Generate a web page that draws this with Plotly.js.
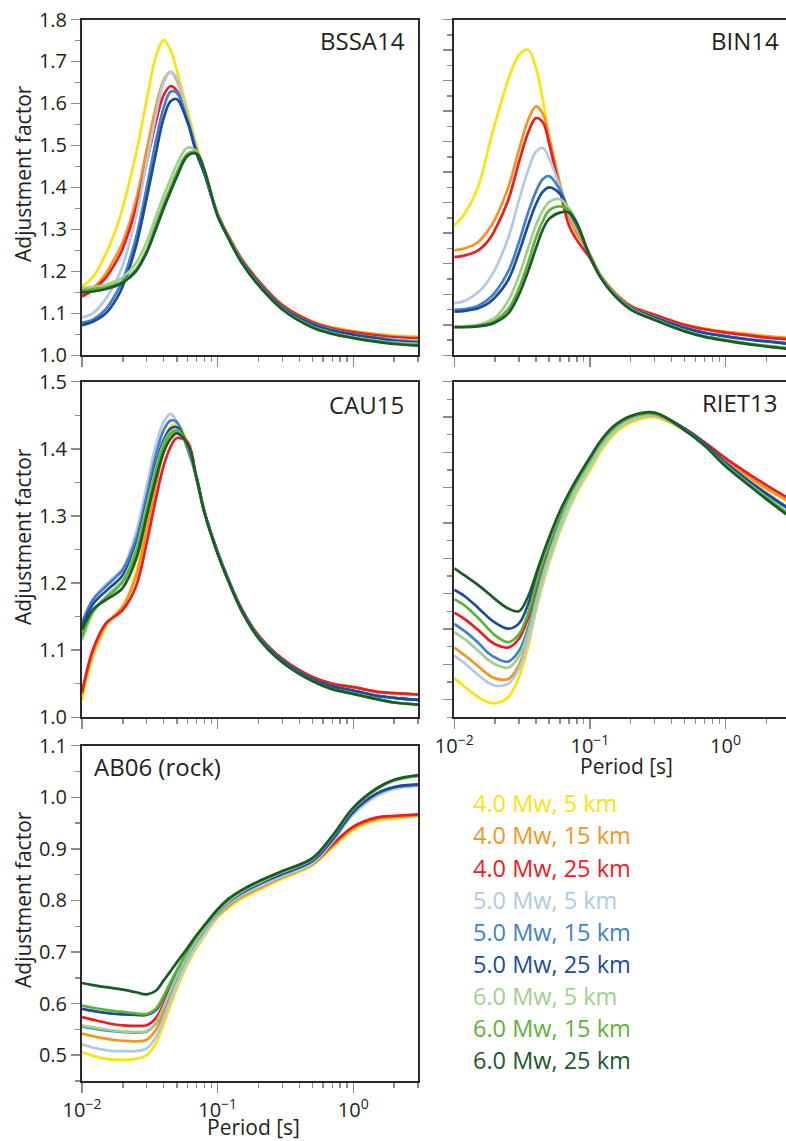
<!DOCTYPE html>
<html>
<head>
<meta charset="utf-8">
<script src="https://cdn.plot.ly/plotly-3.0.1.min.js"></script>
<style>html,body{margin:0;padding:0;background:#fff;overflow:hidden}#chart{width:786px;height:1141px}</style>
</head>
<body>
<div id="chart"></div>
<script>
// ---------------- DATA ----------------
const periods = [0.01, 0.012, 0.015, 0.018, 0.02, 0.025, 0.03, 0.035, 0.04, 0.045, 0.05, 0.06, 0.07, 0.08, 0.1, 0.12, 0.15, 0.2, 0.3, 0.5, 0.7, 1.0, 1.5, 2.0, 3.0];

const seriesNames = ["4.0 Mw, 5 km", "4.0 Mw, 15 km", "4.0 Mw, 25 km", "5.0 Mw, 5 km", "5.0 Mw, 15 km", "5.0 Mw, 25 km", "6.0 Mw, 5 km", "6.0 Mw, 15 km", "6.0 Mw, 25 km"];
const seriesColors = ["#FBE30C", "#F7941D", "#EC1C24", "#B2C8E8", "#4281C6", "#1E4A9D", "#9FD08C", "#5DB334", "#1B5A2B"];

const panelNames = ["BSSA14", "BIN14", "CAU15", "RIET13", "AB06 (rock)"];

const BSSA14 = [
  [1.164, 1.186, 1.242, 1.305, 1.353, 1.48, 1.608, 1.711, 1.751, 1.727, 1.679, 1.584, 1.50, 1.44, 1.337, 1.285, 1.23, 1.178, 1.12, 1.08, 1.066, 1.057, 1.05, 1.047, 1.045],
  [1.145, 1.16, 1.195, 1.24, 1.27, 1.37, 1.49, 1.59, 1.655, 1.675, 1.655, 1.57, 1.49, 1.435, 1.337, 1.285, 1.23, 1.178, 1.12, 1.08, 1.066, 1.057, 1.05, 1.045, 1.043],
  [1.14, 1.155, 1.185, 1.225, 1.255, 1.35, 1.46, 1.555, 1.62, 1.641, 1.63, 1.56, 1.485, 1.433, 1.336, 1.284, 1.229, 1.177, 1.119, 1.079, 1.064, 1.055, 1.047, 1.043, 1.04],
  [1.09, 1.10, 1.135, 1.18, 1.215, 1.33, 1.46, 1.57, 1.65, 1.675, 1.66, 1.57, 1.49, 1.435, 1.335, 1.282, 1.226, 1.173, 1.115, 1.075, 1.06, 1.05, 1.042, 1.038, 1.035],
  [1.078, 1.085, 1.11, 1.15, 1.18, 1.28, 1.40, 1.51, 1.59, 1.628, 1.625, 1.56, 1.485, 1.433, 1.335, 1.282, 1.226, 1.173, 1.115, 1.075, 1.06, 1.05, 1.042, 1.036, 1.032],
  [1.072, 1.08, 1.10, 1.135, 1.165, 1.26, 1.375, 1.48, 1.565, 1.605, 1.61, 1.555, 1.48, 1.432, 1.334, 1.281, 1.225, 1.172, 1.114, 1.074, 1.059, 1.049, 1.04, 1.034, 1.03],
  [1.16, 1.163, 1.168, 1.178, 1.186, 1.22, 1.27, 1.33, 1.38, 1.42, 1.455, 1.495, 1.485, 1.44, 1.333, 1.28, 1.222, 1.168, 1.11, 1.068, 1.053, 1.043, 1.035, 1.03, 1.027],
  [1.155, 1.157, 1.162, 1.17, 1.177, 1.205, 1.25, 1.31, 1.36, 1.40, 1.435, 1.48, 1.482, 1.44, 1.333, 1.28, 1.222, 1.168, 1.11, 1.067, 1.052, 1.042, 1.034, 1.028, 1.025],
  [1.15, 1.152, 1.158, 1.166, 1.173, 1.20, 1.245, 1.30, 1.35, 1.39, 1.425, 1.475, 1.48, 1.44, 1.332, 1.279, 1.221, 1.167, 1.109, 1.066, 1.051, 1.041, 1.032, 1.027, 1.023]
];

const BIN14 = [
  [1.309, 1.339, 1.402, 1.498, 1.553, 1.657, 1.716, 1.728, 1.685, 1.609, 1.52, 1.40, 1.34, 1.30, 1.24, 1.19, 1.152, 1.118, 1.097, 1.073, 1.063, 1.056, 1.05, 1.046, 1.042],
  [1.25, 1.255, 1.27, 1.30, 1.325, 1.40, 1.49, 1.56, 1.593, 1.575, 1.52, 1.41, 1.33, 1.29, 1.24, 1.19, 1.152, 1.118, 1.097, 1.073, 1.063, 1.056, 1.05, 1.045, 1.041],
  [1.234, 1.238, 1.25, 1.275, 1.30, 1.37, 1.46, 1.53, 1.565, 1.555, 1.505, 1.395, 1.31, 1.275, 1.232, 1.188, 1.15, 1.117, 1.096, 1.072, 1.062, 1.054, 1.047, 1.042, 1.038],
  [1.124, 1.13, 1.15, 1.18, 1.205, 1.28, 1.37, 1.44, 1.485, 1.494, 1.47, 1.40, 1.34, 1.305, 1.238, 1.188, 1.149, 1.114, 1.091, 1.066, 1.054, 1.046, 1.038, 1.034, 1.029],
  [1.108, 1.11, 1.118, 1.135, 1.15, 1.20, 1.27, 1.34, 1.39, 1.42, 1.427, 1.395, 1.345, 1.31, 1.238, 1.188, 1.148, 1.114, 1.091, 1.066, 1.054, 1.046, 1.038, 1.034, 1.028],
  [1.104, 1.106, 1.112, 1.125, 1.138, 1.18, 1.245, 1.31, 1.36, 1.39, 1.40, 1.385, 1.345, 1.31, 1.237, 1.187, 1.147, 1.113, 1.09, 1.065, 1.053, 1.045, 1.037, 1.033, 1.027],
  [1.068, 1.069, 1.073, 1.082, 1.09, 1.13, 1.19, 1.255, 1.31, 1.345, 1.365, 1.372, 1.35, 1.315, 1.237, 1.187, 1.146, 1.111, 1.086, 1.059, 1.046, 1.037, 1.028, 1.023, 1.017],
  [1.067, 1.068, 1.07, 1.076, 1.082, 1.11, 1.16, 1.22, 1.28, 1.32, 1.345, 1.355, 1.345, 1.315, 1.236, 1.186, 1.145, 1.11, 1.085, 1.058, 1.045, 1.036, 1.027, 1.022, 1.016],
  [1.067, 1.067, 1.069, 1.073, 1.078, 1.10, 1.145, 1.20, 1.255, 1.30, 1.325, 1.34, 1.34, 1.315, 1.235, 1.185, 1.144, 1.109, 1.084, 1.057, 1.044, 1.035, 1.026, 1.021, 1.015]
];

const CAU15 = [
  [1.025, 1.09, 1.135, 1.155, 1.165, 1.215, 1.29, 1.36, 1.41, 1.433, 1.437, 1.41, 1.355, 1.305, 1.245, 1.205, 1.162, 1.122, 1.087, 1.06, 1.05, 1.045, 1.038, 1.036, 1.034],
  [1.035, 1.095, 1.138, 1.155, 1.165, 1.21, 1.28, 1.345, 1.395, 1.418, 1.425, 1.41, 1.355, 1.305, 1.245, 1.205, 1.162, 1.122, 1.087, 1.06, 1.05, 1.045, 1.038, 1.036, 1.034],
  [1.037, 1.10, 1.14, 1.152, 1.16, 1.195, 1.26, 1.325, 1.375, 1.403, 1.416, 1.41, 1.355, 1.305, 1.245, 1.205, 1.162, 1.122, 1.087, 1.06, 1.05, 1.045, 1.038, 1.036, 1.034],
  [1.14, 1.175, 1.198, 1.212, 1.222, 1.275, 1.345, 1.405, 1.44, 1.452, 1.44, 1.40, 1.357, 1.306, 1.246, 1.205, 1.161, 1.12, 1.085, 1.057, 1.046, 1.04, 1.032, 1.029, 1.026],
  [1.14, 1.175, 1.195, 1.21, 1.22, 1.265, 1.33, 1.39, 1.428, 1.442, 1.44, 1.40, 1.357, 1.306, 1.246, 1.205, 1.161, 1.12, 1.085, 1.057, 1.046, 1.04, 1.032, 1.029, 1.026],
  [1.135, 1.168, 1.188, 1.202, 1.212, 1.255, 1.32, 1.375, 1.413, 1.43, 1.432, 1.405, 1.357, 1.306, 1.246, 1.205, 1.161, 1.12, 1.085, 1.057, 1.046, 1.04, 1.032, 1.029, 1.026],
  [1.115, 1.155, 1.18, 1.195, 1.205, 1.25, 1.315, 1.37, 1.408, 1.425, 1.428, 1.405, 1.356, 1.305, 1.244, 1.203, 1.159, 1.118, 1.082, 1.054, 1.042, 1.035, 1.027, 1.022, 1.019],
  [1.12, 1.158, 1.178, 1.192, 1.202, 1.245, 1.31, 1.365, 1.405, 1.423, 1.427, 1.405, 1.356, 1.305, 1.244, 1.203, 1.159, 1.118, 1.082, 1.054, 1.042, 1.035, 1.027, 1.022, 1.019],
  [1.13, 1.16, 1.175, 1.185, 1.193, 1.235, 1.30, 1.355, 1.395, 1.415, 1.423, 1.407, 1.356, 1.305, 1.244, 1.203, 1.159, 1.118, 1.082, 1.054, 1.042, 1.035, 1.027, 1.022, 1.019]
];

const RIET13 = [
  [1.058, 1.045, 1.03, 1.022, 1.021, 1.03, 1.06, 1.105, 1.158, 1.198, 1.229, 1.276, 1.309, 1.334, 1.368, 1.396, 1.421, 1.439, 1.447, 1.427, 1.407, 1.382, 1.357, 1.34, 1.32],
  [1.104, 1.092, 1.076, 1.063, 1.058, 1.057, 1.078, 1.118, 1.166, 1.205, 1.235, 1.282, 1.315, 1.339, 1.373, 1.4, 1.425, 1.442, 1.449, 1.428, 1.408, 1.383, 1.358, 1.341, 1.321],
  [1.156, 1.146, 1.13, 1.115, 1.109, 1.104, 1.117, 1.148, 1.189, 1.225, 1.253, 1.296, 1.326, 1.349, 1.381, 1.406, 1.428, 1.445, 1.451, 1.43, 1.41, 1.386, 1.362, 1.346, 1.325],
  [1.092, 1.08, 1.063, 1.051, 1.047, 1.05, 1.072, 1.113, 1.162, 1.202, 1.233, 1.28, 1.313, 1.338, 1.373, 1.4, 1.425, 1.443, 1.45, 1.428, 1.406, 1.378, 1.35, 1.332, 1.308],
  [1.139, 1.128, 1.111, 1.095, 1.089, 1.083, 1.099, 1.133, 1.178, 1.216, 1.245, 1.291, 1.323, 1.346, 1.38, 1.406, 1.429, 1.446, 1.452, 1.43, 1.408, 1.38, 1.352, 1.334, 1.31],
  [1.19, 1.18, 1.163, 1.148, 1.141, 1.132, 1.14, 1.168, 1.206, 1.238, 1.263, 1.303, 1.332, 1.353, 1.385, 1.41, 1.432, 1.448, 1.453, 1.43, 1.408, 1.379, 1.351, 1.333, 1.309],
  [1.127, 1.116, 1.099, 1.085, 1.079, 1.074, 1.091, 1.126, 1.172, 1.211, 1.241, 1.287, 1.32, 1.344, 1.378, 1.404, 1.428, 1.445, 1.451, 1.428, 1.405, 1.376, 1.347, 1.328, 1.302],
  [1.176, 1.166, 1.148, 1.131, 1.122, 1.112, 1.124, 1.155, 1.197, 1.232, 1.259, 1.3, 1.33, 1.351, 1.384, 1.409, 1.431, 1.447, 1.452, 1.428, 1.405, 1.375, 1.346, 1.327, 1.301],
  [1.222, 1.211, 1.197, 1.184, 1.176, 1.162, 1.158, 1.18, 1.213, 1.243, 1.268, 1.307, 1.334, 1.355, 1.387, 1.412, 1.434, 1.449, 1.454, 1.428, 1.405, 1.374, 1.345, 1.325, 1.298]
];

const AB06 = [
  [0.506, 0.499, 0.493, 0.491, 0.491, 0.493, 0.5, 0.523, 0.56, 0.597, 0.629, 0.676, 0.708, 0.731, 0.767, 0.786, 0.803, 0.82, 0.842, 0.868, 0.902, 0.937, 0.956, 0.959, 0.964],
  [0.542, 0.537, 0.532, 0.529, 0.528, 0.527, 0.53, 0.549, 0.582, 0.616, 0.645, 0.687, 0.717, 0.738, 0.77, 0.789, 0.807, 0.823, 0.845, 0.87, 0.905, 0.94, 0.958, 0.962, 0.965],
  [0.574, 0.569, 0.563, 0.559, 0.558, 0.557, 0.558, 0.572, 0.6, 0.63, 0.656, 0.694, 0.722, 0.742, 0.773, 0.792, 0.81, 0.826, 0.847, 0.872, 0.908, 0.943, 0.961, 0.964, 0.967],
  [0.521, 0.515, 0.51, 0.508, 0.508, 0.508, 0.513, 0.535, 0.57, 0.606, 0.637, 0.682, 0.713, 0.735, 0.772, 0.792, 0.81, 0.826, 0.847, 0.872, 0.913, 0.967, 1.003, 1.016, 1.022],
  [0.556, 0.552, 0.548, 0.546, 0.545, 0.544, 0.546, 0.562, 0.593, 0.625, 0.652, 0.693, 0.723, 0.744, 0.776, 0.796, 0.814, 0.831, 0.851, 0.876, 0.917, 0.971, 1.007, 1.019, 1.024],
  [0.59, 0.586, 0.582, 0.58, 0.579, 0.578, 0.578, 0.587, 0.612, 0.638, 0.662, 0.699, 0.727, 0.747, 0.778, 0.798, 0.816, 0.832, 0.852, 0.877, 0.918, 0.972, 1.008, 1.02, 1.025],
  [0.558, 0.554, 0.55, 0.547, 0.546, 0.545, 0.547, 0.563, 0.594, 0.626, 0.653, 0.694, 0.724, 0.745, 0.778, 0.798, 0.817, 0.834, 0.855, 0.88, 0.923, 0.978, 1.016, 1.032, 1.041],
  [0.596, 0.592, 0.588, 0.585, 0.584, 0.581, 0.58, 0.59, 0.615, 0.642, 0.665, 0.702, 0.73, 0.75, 0.781, 0.801, 0.819, 0.836, 0.856, 0.881, 0.924, 0.979, 1.017, 1.033, 1.042],
  [0.64, 0.636, 0.632, 0.629, 0.627, 0.622, 0.618, 0.625, 0.645, 0.663, 0.68, 0.708, 0.733, 0.752, 0.783, 0.803, 0.82, 0.837, 0.857, 0.882, 0.925, 0.98, 1.018, 1.034, 1.043]
];

const xMajorTicks = [0.01, 0.1, 1];
const xMajorLabels = ["10<sup>\u22122</sup>", "10<sup>\u22121</sup>", "10<sup>0</sup>"];
const xMinorTicks = [0.02, 0.03, 0.04, 0.05, 0.06, 0.07, 0.08, 0.09, 0.2, 0.3, 0.4, 0.5, 0.6, 0.7, 0.8, 0.9, 2, 3];

// ---------------- LAYOUT HELPERS ----------------
const W = 786, H = 1141;
const FONT = "Open Sans, Noto Sans, sans-serif";
const TXT = "#231f20";
const px = v => v / W;
const py = v => 1 - v / H;

const leftDom = [px(82), px(418)];
const rightDom = [px(454.3), 1];
const rows = [[py(355.3), py(19.5)], [py(717.3), py(381.7)], [py(1081), py(745.7)]];

function xAxis(dom, anchor, showLabels, rightCol) {
  return {
    type: "log", domain: dom, anchor: anchor,
    range: [-2, rightCol ? -2 + (786 - 454.3) / 135.6 : Math.log10(3)],
    showline: true, linecolor: "#2a2a2a", linewidth: 2, mirror: true,
    showgrid: false, zeroline: false,
    ticks: "outside", ticklen: 10, tickwidth: 1.5, tickcolor: "#8c8c8c",
    tickmode: "array", tickvals: xMajorTicks, ticktext: xMajorLabels,
    showticklabels: showLabels,
    tickfont: {family: FONT, size: 20, color: TXT},
    minor: {tickmode: "array", tickvals: xMinorTicks, ticks: "outside", ticklen: 5, tickwidth: 1.5, tickcolor: "#8c8c8c", showgrid: false}
  };
}
function yAxis(dom, anchor, range, showLabels, tick0, dtick, mirror) {
  return {
    domain: dom, anchor: anchor, range: range,
    showline: true, linecolor: "#2a2a2a", linewidth: 2, mirror: mirror,
    showgrid: false, zeroline: false,
    ticks: "outside", ticklen: 9, tickwidth: 1.5, tickcolor: "#8c8c8c",
    tickmode: "linear", tick0: tick0, dtick: dtick, tickformat: ".1f",
    showticklabels: showLabels,
    tickfont: {family: FONT, size: 20, color: TXT},
    minor: {tickmode: "linear", tick0: tick0, dtick: dtick / 2, ticks: "outside", ticklen: 5, tickwidth: 1.5, tickcolor: "#8c8c8c", showgrid: false}
  };
}

const panels = [
  {data: BSSA14, xa: "x", ya: "y"},
  {data: BIN14, xa: "x2", ya: "y2"},
  {data: CAU15, xa: "x3", ya: "y3"},
  {data: RIET13, xa: "x4", ya: "y4"},
  {data: AB06, xa: "x5", ya: "y5"}
];

const traces = [];
panels.forEach(p => {
  p.data.forEach((vals, i) => {
    traces.push({
      type: "scatter", mode: "lines", x: periods, y: vals,
      xaxis: p.xa, yaxis: p.ya, name: seriesNames[i], showlegend: false,
      line: {color: seriesColors[i], width: 2.7, shape: "spline", smoothing: 1},
      hoverinfo: "skip"
    });
  });
});

const annotations = [];
// panel labels
const labelPos = [
  {x: 406, y: 40.5, xa: "right"},
  {x: 780, y: 40.5, xa: "right"},
  {x: 405, y: 404, xa: "right"},
  {x: 779, y: 403, xa: "right"},
  {x: 93, y: 766, xa: "left"}
];
panelNames.forEach((n, i) => {
  annotations.push({text: n, xref: "paper", yref: "paper", x: px(labelPos[i].x), y: py(labelPos[i].y),
    xanchor: labelPos[i].xa, yanchor: "middle", showarrow: false, borderpad: 0,
    font: {family: FONT, size: 24, color: TXT}});
});
// y titles
[174, 537, 900].forEach(yc => {
  annotations.push({text: "Adjustment factor", xref: "paper", yref: "paper", x: px(23), y: py(yc), textangle: -90,
    xanchor: "center", yanchor: "middle", showarrow: false, font: {family: FONT, size: 21, color: TXT}});
});
// x titles
[{x: 253, y: 1126.5}, {x: 626, y: 766}].forEach(p => {
  annotations.push({text: "Period [s]", xref: "paper", yref: "paper", x: px(p.x), y: py(p.y),
    xanchor: "center", yanchor: "middle", showarrow: false, borderpad: 0, font: {family: FONT, size: 21, color: TXT}});
});
// legend text
seriesNames.forEach((n, i) => {
  annotations.push({text: n, xref: "paper", yref: "paper", x: px(471), y: py(803.3 + 32.1 * i),
    xanchor: "left", yanchor: "middle", showarrow: false, font: {family: FONT, size: 23.5, color: seriesColors[i]}});
});

const layout = {
  width: W, height: H, margin: {l: 0, r: 0, t: 0, b: 0},
  paper_bgcolor: "#fff", plot_bgcolor: "#fff", showlegend: false,
  font: {family: FONT, color: TXT},
  xaxis: xAxis(leftDom, "y", false, false),
  yaxis: yAxis(rows[0], "x", [1.0, 1.8], true, 1.0, 0.1, true),
  xaxis2: xAxis(rightDom, "y2", false, true),
  yaxis2: yAxis(rows[0], "x2", [1.0, 1.8], false, 1.0, 0.8 / 11, false),
  xaxis3: xAxis(leftDom, "y3", false, false),
  yaxis3: yAxis(rows[1], "x3", [1.0, 1.5], true, 1.0, 0.1, true),
  xaxis4: xAxis(rightDom, "y4", true, true),
  yaxis4: yAxis(rows[1], "x4", [1.0, 1.5], false, 1.5, 0.5 / 9.5, false),
  xaxis5: xAxis(leftDom, "y5", true, false),
  yaxis5: yAxis(rows[2], "x5", [0.45, 1.1], true, 0.5, 0.1, true),
  annotations: annotations
};

Plotly.newPlot("chart", traces, layout, {staticPlot: true, displayModeBar: false});
</script>
</body>
</html>
